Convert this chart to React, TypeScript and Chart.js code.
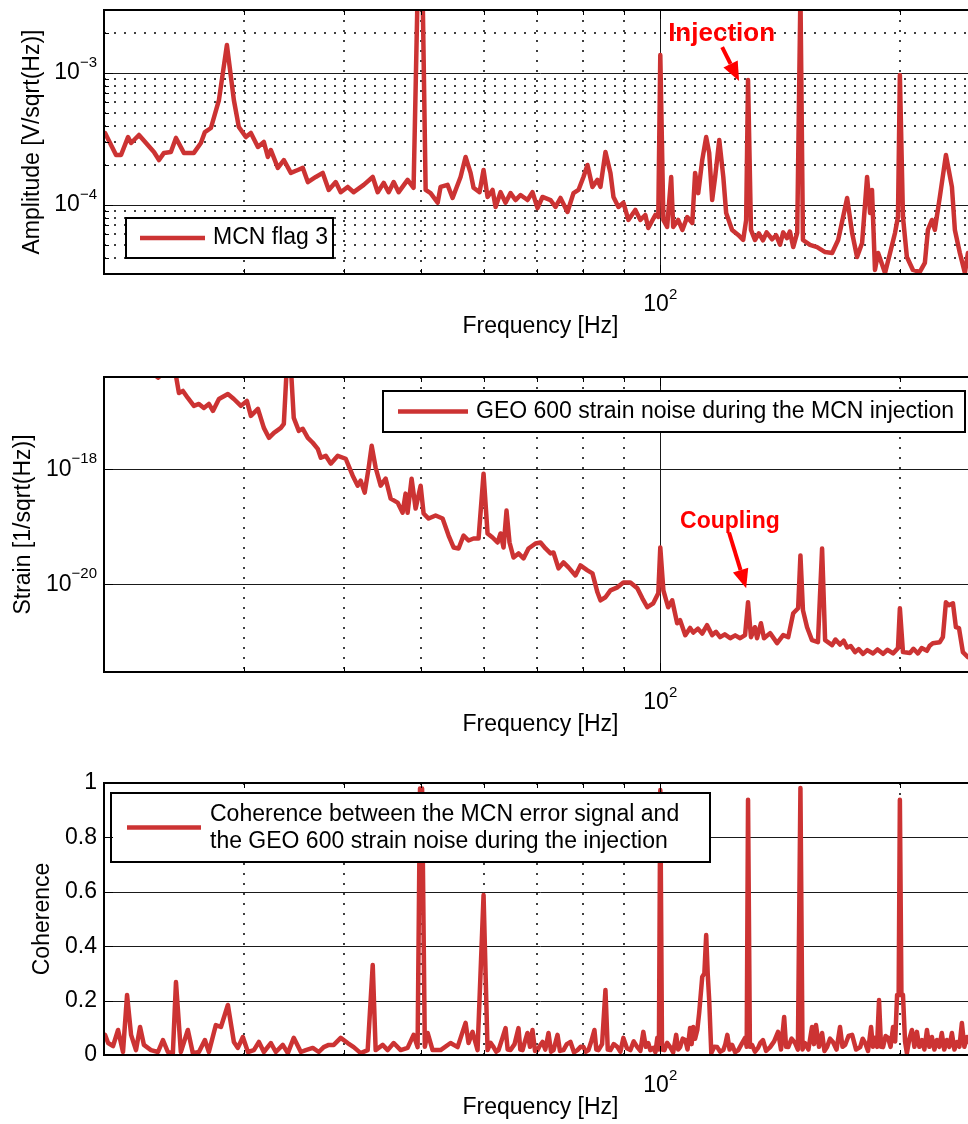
import React, { useEffect, useRef } from "react";
import { Chart, registerables } from "chart.js";

Chart.register(...registerables);

const FONT_FAMILY = "'Liberation Sans', Arial, Helvetica, sans-serif";
const TRACE_COLOR = "#cc3333";
const NOTE_COLOR = "#ff0000";
const CANVAS_WIDTH = 1000;

// Shared logarithmic frequency axis (Hz)
const freqRange = [20, 250];
const freqMinorTicks = [30, 40, 50, 60, 70, 80, 90, 200];
const freqMajorTicks = [100];
const freqMajorLabels = ["10^2"];
const freqTitle = "Frequency [Hz]";

// MCN error signal amplitude spectrum [V/sqrt(Hz)]
const mcnFreq = [
  20.06, 20.71, 21.01, 21.44, 21.63, 22.13, 23.11, 23.45, 23.79, 24.27,
  24.63, 25.2, 25.94, 26.47, 26.78, 27.25, 27.89, 28.54, 29.12, 29.54,
  30.15, 30.59, 31.22, 31.76, 32.13, 32.41, 33.07, 33.65, 34.34, 35.04,
  35.55, 36.07, 36.91, 37.66, 38.32, 39.1, 39.67, 40.48, 41.19, 42.4,
  43.52, 44.15, 44.92, 45.57, 46.24, 46.91, 48.14, 48.98, 49.55, 50.28,
  50.72, 51.45, 52.51, 52.96, 54.04, 54.83, 56.11, 56.93, 57.76, 58.26,
  59.28, 59.97, 60.67, 61.55, 62.09, 62.99, 63.91, 64.84, 65.78, 66.74,
  68.1, 69.09, 70.1, 71.12, 72.79, 73.85, 74.92, 76.45, 77.79, 78.92,
  80.07, 81.0, 82.18, 83.37, 84.1, 85.33, 86.57, 87.33, 88.6, 89.87,
  91.18, 93.03, 94.39, 95.76, 96.59, 98.57, 99.42, 100.0, 100.9, 102.0,
  103.2, 103.8, 105.3, 106.6, 108.1, 109.7, 110.6, 111.6, 112.9, 114.2,
  115.2, 116.2, 117.2, 118.6, 120.0, 121.0, 123.1, 125.3, 127.1, 128.2,
  128.9, 130.0, 131.5, 133.0, 134.6, 136.0, 138.2, 139.8, 141.4, 142.7,
  144.3, 145.5, 146.9, 148.6, 150.0, 151.1, 154.2, 157.4, 161.1, 164.4,
  167.3, 169.7, 171.7, 174.2, 176.7, 179.3, 181.9, 183.5, 184.5, 186.1,
  187.8, 191.6, 194.4, 197.2, 198.9, 200.0, 201.8, 204.1, 207.7, 211.9,
  215.0, 216.9, 219.4, 221.3, 224.5, 228.5, 232.5, 234.5, 237.9, 241.4,
  243.5, 250.0,
];
const mcnAmp = [
  3.51e-4, 2.39e-4, 2.39e-4, 3.27e-4, 2.95e-4, 3.39e-4, 2.52e-4, 2.19e-4, 2.48e-4, 2.52e-4,
  3.22e-4, 2.48e-4, 2.48e-4, 2.95e-4, 3.57e-4, 3.83e-4, 6.24e-4, 1.63e-3, 6.24e-4, 3.9e-4,
  3.27e-4, 3.51e-4, 2.75e-4, 3.0e-4, 2.31e-4, 2.61e-4, 1.91e-4, 2.19e-4, 1.75e-4, 1.84e-4,
  1.91e-4, 1.49e-4, 1.63e-4, 1.75e-4, 1.3e-4, 1.49e-4, 1.25e-4, 1.37e-4, 1.25e-4, 1.42e-4,
  1.63e-4, 1.25e-4, 1.47e-4, 1.25e-4, 1.49e-4, 1.25e-4, 1.55e-4, 1.35e-4, 4.0e-3, 4.0e-3,
  1.3e-4, 1.23e-4, 1.04e-4, 1.37e-4, 1.42e-4, 1.13e-4, 1.63e-4, 2.31e-4, 1.75e-4, 1.35e-4,
  1.25e-4, 1.84e-4, 1.15e-4, 1.3e-4, 9.66e-5, 1.25e-4, 1.04e-4, 1.23e-4, 1.09e-4, 1.19e-4,
  1.09e-4, 1.25e-4, 9.49e-5, 1.15e-4, 1.09e-4, 9.66e-5, 1.13e-4, 8.85e-5, 1.23e-4, 1.3e-4,
  1.63e-4, 2.01e-4, 1.37e-4, 1.55e-4, 1.37e-4, 2.52e-4, 1.75e-4, 1.15e-4, 9.66e-5, 1.04e-4,
  7.7e-5, 9.17e-5, 7.7e-5, 8.4e-5, 6.7e-5, 8.4e-5, 8.11e-5, 1.37e-3, 7.7e-5, 6.81e-5,
  1.63e-4, 6.81e-5, 7.7e-5, 6.47e-5, 8.11e-5, 7.31e-5, 1.75e-4, 1.23e-4, 2.19e-4, 3.27e-4,
  2.48e-4, 1.09e-4, 1.63e-4, 3.11e-4, 1.63e-4, 8.7e-5, 6.47e-5, 5.93e-5, 5.43e-5, 7.7e-5,
  8.85e-4, 6.47e-5, 5.43e-5, 6.1e-5, 5.4e-5, 6.2e-5, 5.5e-5, 5.9e-5, 5.0e-5, 6.2e-5,
  5.6e-5, 6.3e-5, 4.8e-5, 6.14e-5, 4.0e-3, 5.43e-5, 4.98e-5, 4.8e-5, 4.4e-5, 4.33e-5,
  5.43e-5, 8.11e-5, 1.13e-4, 6.14e-5, 4.04e-5, 5.15e-5, 1.63e-4, 8.7e-5, 1.3e-4, 3.22e-5,
  4.33e-5, 3.05e-5, 4.33e-5, 6.14e-5, 8.11e-5, 9.66e-4, 8.11e-5, 4.04e-5, 3.22e-5, 3.11e-5,
  3.64e-5, 6.47e-5, 7.7e-5, 6.47e-5, 1.15e-4, 2.39e-4, 1.37e-4, 6.47e-5, 4.33e-5, 3.05e-5,
  4.33e-5, 3.5e-5,
];

// GEO 600 strain noise during the injection [1/sqrt(Hz)]
const strainFreq = [
  20.06, 22.0, 23.38, 23.9, 24.63, 24.84, 25.13, 25.49, 25.94, 26.32,
  26.7, 27.09, 27.41, 27.89, 28.62, 29.12, 29.72, 30.24, 30.59, 31.22,
  31.76, 32.23, 32.7, 33.36, 33.65, 33.94, 34.34, 34.63, 35.14, 35.55,
  36.07, 36.59, 37.12, 37.45, 37.99, 38.54, 39.33, 40.25, 41.07, 41.67,
  42.03, 42.52, 43.01, 43.39, 43.89, 44.53, 45.18, 45.84, 46.77, 47.45,
  47.86, 48.14, 48.7, 49.27, 49.99, 50.42, 51.16, 52.2, 53.27, 54.2,
  54.99, 55.79, 56.6, 57.42, 58.26, 59.11, 59.97, 60.67, 61.55, 62.45,
  62.99, 63.54, 64.09, 64.65, 65.4, 66.35, 67.32, 68.3, 69.69, 70.71,
  71.74, 72.79, 73.42, 74.49, 75.57, 76.67, 78.24, 79.37, 81.0, 82.18,
  83.37, 84.1, 85.33, 86.57, 88.34, 89.87, 91.7, 93.57, 94.94, 96.31,
  97.99, 99.42, 100.0, 100.9, 102.3, 103.5, 105.0, 105.9, 107.5, 109.0,
  110.0, 111.5, 112.9, 114.5, 116.2, 117.5, 118.9, 120.5, 122.4, 124.2,
  126.0, 127.8, 128.9, 130.0, 131.5, 132.3, 133.8, 135.0, 137.4, 140.2,
  142.7, 144.8, 146.9, 149.0, 150.0, 151.1, 152.9, 155.1, 157.8, 159.7,
  161.1, 164.4, 166.0, 168.2, 170.0, 171.7, 173.5, 175.7, 177.5, 179.8,
  182.0, 185.1, 187.5, 190.5, 193.0, 196.1, 198.9, 200.0, 201.8, 205.9,
  208.0, 210.7, 213.0, 216.3, 218.0, 220.0, 224.5, 226.5, 228.5, 230.5,
  233.2, 235.2, 237.3, 240.0, 243.5, 250.0,
];
const strainAmp = [
  2.0e-16, 8.0e-17, 3.9e-17, 5.0e-17, 4.2e-17, 2.11e-17, 2.29e-17, 1.73e-17, 1.26e-17, 1.36e-17,
  1.16e-17, 1.36e-17, 1.03e-17, 1.66e-17, 2.03e-17, 1.66e-17, 1.26e-17, 1.54e-17, 8.44e-18, 1.12e-17,
  5.23e-18, 3.51e-18, 4.29e-18, 5.23e-18, 6.14e-18, 6.0e-17, 6.0e-17, 7.79e-18, 4.64e-18, 5.03e-18,
  3.51e-18, 2.88e-18, 2.26e-18, 1.58e-18, 1.71e-18, 1.25e-18, 1.71e-18, 1.52e-18, 7.72e-19, 5.18e-19,
  6.32e-19, 3.92e-19, 1.06e-18, 2.55e-18, 1.06e-18, 5.18e-19, 6.85e-19, 3.08e-19, 2.63e-19, 1.76e-19,
  3.77e-19, 1.76e-19, 6.85e-19, 2.07e-19, 5.18e-19, 1.7e-19, 1.39e-19, 1.57e-19, 1.39e-19, 7.05e-20,
  4.37e-20, 4.2e-20, 7.05e-20, 5.78e-20, 6.26e-20, 6.26e-20, 8.36e-19, 7.64e-20, 6.51e-20, 5.33e-20,
  7.64e-20, 4.37e-20, 1.91e-19, 5.33e-20, 2.93e-20, 3.44e-20, 2.82e-20, 4.2e-20, 5.13e-20, 5.33e-20,
  4.2e-20, 3.44e-20, 3.58e-20, 1.89e-20, 2.4e-20, 1.97e-20, 1.43e-20, 2.13e-20, 1.75e-20, 1.55e-20,
  7.27e-21, 5.28e-21, 5.96e-21, 7.87e-21, 8.87e-21, 1.08e-20, 1.08e-20, 8.53e-21, 5.72e-21, 4.0e-21,
  4.69e-21, 7.0e-21, 4.37e-20, 7.87e-21, 4.0e-21, 5.28e-21, 2.11e-21, 2.38e-21, 1.31e-21, 1.75e-21,
  1.45e-21, 1.7e-21, 1.4e-21, 1.95e-21, 1.31e-21, 1.5e-21, 1.21e-21, 1.35e-21, 1.16e-21, 1.3e-21,
  1.16e-21, 1.31e-21, 4.88e-21, 1.21e-21, 1.8e-21, 1.16e-21, 2.11e-21, 1.16e-21, 1.42e-21, 9.51e-22,
  1.31e-21, 1.21e-21, 3.15e-21, 3.84e-21, 3.18e-20, 3.55e-21, 1.8e-21, 1.07e-21, 9.9e-22, 4.2e-20,
  1.07e-21, 8.78e-22, 1.1e-21, 9.0e-22, 1.05e-21, 8.0e-22, 8.5e-22, 6.65e-22, 7.5e-22, 6.2e-22,
  7.2e-22, 6.3e-22, 7.4e-22, 6.2e-22, 7.3e-22, 6.3e-22, 7.79e-22, 3.84e-21, 6.65e-22, 6.4e-22,
  7.6e-22, 6.3e-22, 7.8e-22, 7.0e-22, 8.6e-22, 9.51e-22, 9.9e-22, 1.21e-21, 4.88e-21, 4.33e-21,
  4.69e-21, 1.8e-21, 1.73e-21, 6.65e-22, 5.44e-22, 6.0e-22,
];

// Coherence between the MCN error signal and the strain channel
const cohFreq = [
  20.06, 20.24, 20.53, 20.83, 21.13, 21.38, 21.63, 21.94, 22.2, 22.45,
  22.91, 23.38, 23.72, 24.06, 24.41, 24.63, 24.98, 25.49, 25.86, 26.32,
  26.78, 27.09, 27.64, 28.05, 28.62, 29.12, 29.46, 29.89, 30.33, 30.86,
  31.31, 31.76, 32.41, 32.88, 33.55, 34.04, 34.63, 35.35, 35.86, 36.59,
  37.23, 37.77, 38.32, 38.88, 39.67, 40.48, 41.19, 42.03, 42.89, 43.52,
  43.89, 44.79, 45.44, 46.24, 47.18, 48.14, 48.98, 49.55, 49.9, 50.2,
  50.6, 51.01, 51.75, 52.96, 54.51, 55.63, 56.93, 57.42, 58.09, 58.94,
  59.97, 60.67, 61.2, 61.73, 62.2, 62.63, 63.3, 63.91, 64.3, 64.84,
  65.6, 66.35, 66.7, 67.13, 67.6, 68.1, 68.6, 69.09, 69.6, 70.1,
  70.6, 71.12, 71.7, 72.37, 72.9, 73.42, 74.28, 74.8, 75.57, 76.3,
  77.12, 77.9, 78.69, 79.4, 80.07, 80.6, 81.23, 81.9, 82.65, 83.1,
  83.62, 84.5, 85.33, 85.9, 86.57, 87.4, 88.34, 89.1, 89.87, 90.8,
  91.7, 92.6, 93.57, 94.4, 95.21, 95.9, 96.59, 97.15, 97.99, 98.6,
  99.14, 99.6, 100.0, 100.5, 101.2, 102.0, 102.9, 103.8, 104.7, 105.3,
  105.9, 106.7, 107.5, 108.2, 109.0, 109.5, 110.0, 110.6, 111.3, 111.9,
  112.9, 113.6, 114.2, 114.7, 115.2, 115.9, 116.9, 117.9, 118.9, 120.0,
  120.7, 121.4, 122.2, 123.1, 124.2, 125.3, 126.5, 127.8, 128.4, 128.9,
  129.6, 130.4, 131.5, 132.7, 133.6, 134.6, 135.8, 137.4, 139.0, 140.6,
  141.8, 143.1, 143.9, 144.8, 146.2, 147.7, 148.9, 150.0, 150.9, 152.0,
  153.5, 155.1, 156.0, 156.9, 158.3, 159.7, 160.8, 162.0, 163.4, 164.8,
  166.5, 168.2, 169.4, 170.7, 172.4, 174.2, 176.2, 178.3, 179.6, 180.9,
  182.4, 184.0, 185.0, 186.1, 187.2, 188.3, 189.4, 190.5, 191.9, 193.3,
  194.7, 196.1, 197.3, 198.4, 199.3, 200.0, 200.9, 201.8, 203.0, 204.1,
  205.6, 207.1, 208.6, 210.1, 211.6, 213.2, 214.7, 216.3, 217.8, 219.4,
  221.0, 222.6, 224.2, 225.8, 227.4, 229.1, 230.8, 232.5, 234.2, 235.9,
  237.6, 239.3, 241.0, 242.8, 246.0, 250.0,
];
const cohValue = [
  0.074, 0.044, 0.033, 0.092, 0.011, 0.221, 0.074, 0.018, 0.103, 0.037,
  0.018, 0.011, 0.055, 0.011, 0.007, 0.268, 0.011, 0.092, 0.007, 0.011,
  0.055, 0.011, 0.11, 0.103, 0.184, 0.048, 0.026, 0.066, 0.011, 0.018,
  0.048, 0.011, 0.044, 0.011, 0.037, 0.007, 0.063, 0.011, 0.018, 0.026,
  0.011, 0.029, 0.037, 0.037, 0.063, 0.044, 0.029, 0.007, 0.018, 0.331,
  0.018, 0.037, 0.018, 0.044, 0.018, 0.026, 0.074, 0.029, 0.98, 0.98,
  0.03, 0.081, 0.018, 0.018, 0.044, 0.029, 0.118, 0.044, 0.085, 0.018,
  0.588, 0.018, 0.045, 0.029, 0.012, 0.018, 0.06, 0.099, 0.02, 0.018,
  0.04, 0.099, 0.02, 0.018, 0.05, 0.081, 0.03, 0.092, 0.015, 0.018,
  0.035, 0.048, 0.02, 0.081, 0.012, 0.018, 0.074, 0.015, 0.018, 0.04,
  0.048, 0.01, 0.018, 0.03, 0.029, 0.012, 0.018, 0.05, 0.092, 0.02,
  0.018, 0.04, 0.239, 0.02, 0.018, 0.04, 0.029, 0.012, 0.063, 0.025,
  0.018, 0.05, 0.029, 0.015, 0.085, 0.03, 0.044, 0.018, 0.026, 0.01,
  0.063, 0.02, 0.974, 0.02, 0.018, 0.045, 0.029, 0.01, 0.074, 0.02,
  0.029, 0.06, 0.055, 0.02, 0.099, 0.04, 0.103, 0.06, 0.092, 0.154,
  0.287, 0.3, 0.441, 0.3, 0.202, 0.007, 0.03, 0.029, 0.012, 0.018,
  0.04, 0.074, 0.02, 0.037, 0.01, 0.018, 0.04, 0.063, 0.03, 0.938,
  0.03, 0.037, 0.012, 0.026, 0.045, 0.055, 0.015, 0.029, 0.05, 0.085,
  0.02, 0.14, 0.03, 0.029, 0.06, 0.044, 0.02, 0.982, 0.02, 0.044,
  0.02, 0.103, 0.04, 0.11, 0.03, 0.081, 0.015, 0.029, 0.06, 0.048,
  0.02, 0.103, 0.03, 0.037, 0.07, 0.074, 0.02, 0.029, 0.06, 0.044,
  0.015, 0.103, 0.03, 0.063, 0.03, 0.202, 0.03, 0.029, 0.07, 0.063,
  0.03, 0.103, 0.05, 0.221, 0.22, 0.938, 0.22, 0.221, 0.05, 0.007,
  0.06, 0.092, 0.03, 0.085, 0.03, 0.055, 0.02, 0.092, 0.03, 0.066,
  0.02, 0.055, 0.03, 0.081, 0.02, 0.055, 0.03, 0.081, 0.02, 0.048,
  0.03, 0.118, 0.03, 0.066, 0.03, 0.05,
];

// Y axis ticks and labels ("^" separates the exponent)
const ampTicks = [1e-4, 1e-3];
const ampTickLabels = ["10^\u22124", "10^\u22123"];
const strainTicks = [1e-20, 1e-18];
const strainTickLabels = ["10^\u221220", "10^\u221218"];
const cohTicks = [0, 0.2, 0.4, 0.6, 0.8, 1];
const cohTickLabels = ["0", "0.2", "0.4", "0.6", "0.8", "1"];

// minor decade ticks (2..9 x 10^n) inside a log range
function minorDecadeTicks(min: number, max: number) {
  const out: number[] = [];
  for (let e = Math.floor(Math.log10(min)); e <= Math.ceil(Math.log10(max)); e++) {
    for (let k = 2; k <= 9; k++) {
      const v = k * Math.pow(10, e);
      if (v >= min * 0.999 && v <= max * 1.001) out.push(v);
    }
  }
  return out;
}

const panels = [
  {
    key: "mcn",
    top: 0,
    height: 345,
    padding: { left: 104, top: 10, right: 23, bottom: 71 },
    freq: mcnFreq,
    values: mcnAmp,
    yType: "logarithmic",
    yMin: 3e-5,
    yMax: 3e-3,
    yTicks: ampTicks,
    yTickLabels: ampTickLabels,
    yMinor: minorDecadeTicks(3e-5, 3e-3),
    yTitle: "Amplitude [V/sqrt(Hz)]",
    yTitleGap: 71,
    legend: { lines: ["MCN flag 3"], dx: 22, dy: 208, w: 207, h: 40, sample: [14, 79], textDx: 87, lineDy: [20] },
    note: { text: "Injection", size: 26, at: [102.3, 1.75e-3], from: [119.6, 1.57e-3], to: [125.6, 8.7e-4] },
  },
  {
    key: "strain",
    top: 345,
    height: 400,
    padding: { left: 104, top: 32, right: 23, bottom: 73 },
    freq: strainFreq,
    values: strainAmp,
    yType: "logarithmic",
    yMin: 3e-22,
    yMax: 4e-17,
    yTicks: strainTicks,
    yTickLabels: strainTickLabels,
    yMinor: [] as number[],
    yTitle: "Strain [1/sqrt(Hz)]",
    yTitleGap: 80,
    legend: {
      lines: ["GEO 600 strain noise during the MCN injection"],
      dx: 279, dy: 14, w: 582, h: 41, sample: [15, 85], textDx: 93, lineDy: [20.5],
    },
    note: { text: "Coupling", size: 23, at: [105.9, 9.7e-20], from: [122.0, 7.95e-20], to: [128.2, 8.53e-21] },
  },
  {
    key: "coh",
    top: 745,
    height: 379,
    padding: { left: 104, top: 38, right: 23, bottom: 69 },
    freq: cohFreq,
    values: cohValue,
    yType: "linear",
    yMin: 0,
    yMax: 1,
    yTicks: cohTicks,
    yTickLabels: cohTickLabels,
    yMinor: [] as number[],
    yTitle: "Coherence",
    yTitleGap: 61,
    legend: {
      lines: ["Coherence between the MCN error signal and", "the GEO 600 strain noise during the injection"],
      dx: 7, dy: 10, w: 599, h: 69, sample: [16, 90], textDx: 99, lineDy: [22, 49],
    },
    note: null as any,
  },
];

function font(size: number, bold = false) {
  return `${bold ? "bold " : ""}${size}px ${FONT_FAMILY}`;
}

function segment(ctx: CanvasRenderingContext2D, x1: number, y1: number, x2: number, y2: number) {
  ctx.beginPath();
  ctx.moveTo(x1, y1);
  ctx.lineTo(x2, y2);
  ctx.stroke();
}

// "10^-3" style label: base text plus a raised, smaller exponent
function drawPowerLabel(
  ctx: CanvasRenderingContext2D, label: string, x: number, y: number,
  align: "right" | "center", rise: number,
) {
  const [base, exp] = label.split("^");
  ctx.font = font(23);
  const wb = ctx.measureText(base).width;
  let we = 0;
  if (exp) {
    ctx.font = font(15);
    we = ctx.measureText(exp).width;
  }
  const x0 = align === "right" ? x - wb - we : x - (wb + we) / 2;
  ctx.textAlign = "left";
  ctx.font = font(23);
  ctx.fillText(base, x0, y);
  if (exp) {
    ctx.font = font(15);
    ctx.fillText(exp, x0 + wb, y - rise);
  }
}

function drawArrow(ctx: CanvasRenderingContext2D, x1: number, y1: number, x2: number, y2: number) {
  const ang = Math.atan2(y2 - y1, x2 - x1);
  const head = 19;
  const half = 8;
  const bx = x2 - head * Math.cos(ang);
  const by = y2 - head * Math.sin(ang);
  ctx.strokeStyle = NOTE_COLOR;
  ctx.lineWidth = 4;
  segment(ctx, x1, y1, bx, by);
  ctx.fillStyle = NOTE_COLOR;
  ctx.beginPath();
  ctx.moveTo(x2, y2);
  ctx.lineTo(bx + half * Math.sin(ang), by - half * Math.cos(ang));
  ctx.lineTo(bx - half * Math.sin(ang), by + half * Math.cos(ang));
  ctx.closePath();
  ctx.fill();
}

function makeDecor(p: any) {
  return {
    id: "decor-" + p.key,
    beforeDatasetsDraw(chart: any) {
      const { ctx, chartArea: a } = chart;
      const xs = chart.scales.x;
      const ys = chart.scales.y;
      ctx.save();
      ctx.beginPath();
      ctx.rect(a.left, a.top, a.right - a.left, a.bottom - a.top);
      ctx.clip();
      // dotted grid
      ctx.strokeStyle = "#000";
      ctx.lineWidth = 1.5;
      ctx.setLineDash([2, 8]);
      for (const f of freqMinorTicks) {
        const px = Math.round(xs.getPixelForValue(f));
        segment(ctx, px, a.top, px, a.bottom);
      }
      for (const v of p.yMinor) {
        const py = Math.round(ys.getPixelForValue(v));
        segment(ctx, a.left, py, a.right, py);
      }
      // solid grid
      ctx.setLineDash([]);
      ctx.lineWidth = 1;
      ctx.strokeStyle = "#1a1a1a";
      for (const f of freqMajorTicks) {
        const px = Math.round(xs.getPixelForValue(f)) + 0.5;
        segment(ctx, px, a.top, px, a.bottom);
      }
      for (const v of p.yTicks) {
        const py = Math.round(ys.getPixelForValue(v)) + 0.5;
        segment(ctx, a.left, py, a.right, py);
      }
      ctx.restore();
    },
    afterDatasetsDraw(chart: any) {
      const { ctx, chartArea: a } = chart;
      const xs = chart.scales.x;
      const ys = chart.scales.y;
      ctx.save();

      // annotation with arrow
      if (p.note) {
        const n = p.note;
        drawArrow(
          ctx,
          xs.getPixelForValue(n.from[0]), ys.getPixelForValue(n.from[1]),
          xs.getPixelForValue(n.to[0]), ys.getPixelForValue(n.to[1]),
        );
        ctx.fillStyle = NOTE_COLOR;
        ctx.font = font(n.size, true);
        ctx.textAlign = "left";
        ctx.textBaseline = "alphabetic";
        ctx.fillText(n.text, xs.getPixelForValue(n.at[0]), ys.getPixelForValue(n.at[1]));
      }

      // legend
      const lg = p.legend;
      const bx = a.left + lg.dx;
      const by = a.top + lg.dy;
      ctx.fillStyle = "#fff";
      ctx.fillRect(bx, by, lg.w, lg.h);
      ctx.strokeStyle = "#000";
      ctx.lineWidth = 2;
      ctx.strokeRect(bx, by, lg.w, lg.h);
      ctx.strokeStyle = TRACE_COLOR;
      ctx.lineWidth = 4.5;
      segment(ctx, bx + lg.sample[0], by + lg.h / 2, bx + lg.sample[1], by + lg.h / 2);
      ctx.fillStyle = "#000";
      ctx.font = font(23);
      ctx.textAlign = "left";
      ctx.textBaseline = "middle";
      lg.lines.forEach((t: string, i: number) => ctx.fillText(t, bx + lg.textDx, by + lg.lineDy[i]));

      // tick marks (inward)
      ctx.strokeStyle = "#000";
      ctx.lineWidth = 1;
      for (const f of freqMinorTicks) {
        const px = Math.round(xs.getPixelForValue(f)) + 0.5;
        segment(ctx, px, a.bottom, px, a.bottom - 5);
        segment(ctx, px, a.top, px, a.top + 5);
      }
      for (const f of freqMajorTicks) {
        const px = Math.round(xs.getPixelForValue(f)) + 0.5;
        segment(ctx, px, a.bottom, px, a.bottom - 9);
        segment(ctx, px, a.top, px, a.top + 9);
      }
      for (const v of p.yTicks) {
        const py = Math.round(ys.getPixelForValue(v)) + 0.5;
        segment(ctx, a.left, py, a.left + 9, py);
        segment(ctx, a.right, py, a.right - 9, py);
      }
      for (const v of p.yMinor) {
        const py = Math.round(ys.getPixelForValue(v)) + 0.5;
        segment(ctx, a.left, py, a.left + 5, py);
        segment(ctx, a.right, py, a.right - 5, py);
      }

      // axes box
      ctx.lineWidth = 2;
      ctx.strokeRect(a.left, a.top, a.right - a.left, a.bottom - a.top);

      // y tick labels
      ctx.fillStyle = "#000";
      ctx.textBaseline = "middle";
      p.yTicks.forEach((v: number, i: number) => {
        drawPowerLabel(ctx, p.yTickLabels[i], a.left - 7, ys.getPixelForValue(v), "right", 10);
      });

      // x tick labels
      ctx.textBaseline = "alphabetic";
      freqMajorTicks.forEach((f, i) => {
        drawPowerLabel(ctx, freqMajorLabels[i], xs.getPixelForValue(f), a.bottom + 37, "center", 12);
      });

      // axis titles
      ctx.font = font(23);
      ctx.textAlign = "center";
      ctx.fillText(freqTitle, (a.left + a.right) / 2, a.bottom + 59);
      ctx.save();
      ctx.translate(a.left - p.yTitleGap, (a.top + a.bottom) / 2);
      ctx.rotate(-Math.PI / 2);
      ctx.textBaseline = "middle";
      ctx.fillText(p.yTitle, 0, 0);
      ctx.restore();

      ctx.restore();
    },
  };
}

function SpectrumPanel({ panel }: { panel: any }) {
  const ref = useRef<HTMLCanvasElement | null>(null);
  useEffect(() => {
    const canvas = ref.current;
    if (!canvas) return;
    const n = Math.min(panel.freq.length, panel.values.length);
    const points = [];
    for (let i = 0; i < n; i++) points.push({ x: panel.freq[i], y: panel.values[i] });
    const chart = new Chart(canvas, {
      type: "line",
      data: {
        datasets: [
          {
            data: points,
            borderColor: TRACE_COLOR,
            borderWidth: 4.5,
            pointRadius: 0,
            tension: 0,
            fill: false,
            borderJoinStyle: "round",
            borderCapStyle: "round",
            clip: 0,
          } as any,
        ],
      },
      options: {
        animation: false,
        responsive: false,
        devicePixelRatio: 1,
        events: [],
        layout: { padding: panel.padding },
        plugins: { legend: { display: false }, tooltip: { enabled: false } },
        scales: {
          x: { type: "logarithmic", min: freqRange[0], max: freqRange[1], display: false },
          y: { type: panel.yType, min: panel.yMin, max: panel.yMax, display: false },
        },
      } as any,
      plugins: [makeDecor(panel)],
    });
    return () => chart.destroy();
  }, [panel]);
  return (
    <canvas
      ref={ref}
      width={CANVAS_WIDTH}
      height={panel.height}
      style={{ position: "absolute", left: 0, top: panel.top, width: CANVAS_WIDTH, height: panel.height, display: "block" }}
    />
  );
}

export default function App() {
  return (
    <div
      style={{
        position: "absolute",
        left: 0,
        top: 0,
        width: 968,
        height: 1124,
        overflow: "hidden",
        background: "#fff",
      }}
    >
      {panels.map((p) => (
        <SpectrumPanel key={p.key} panel={p} />
      ))}
    </div>
  );
}
